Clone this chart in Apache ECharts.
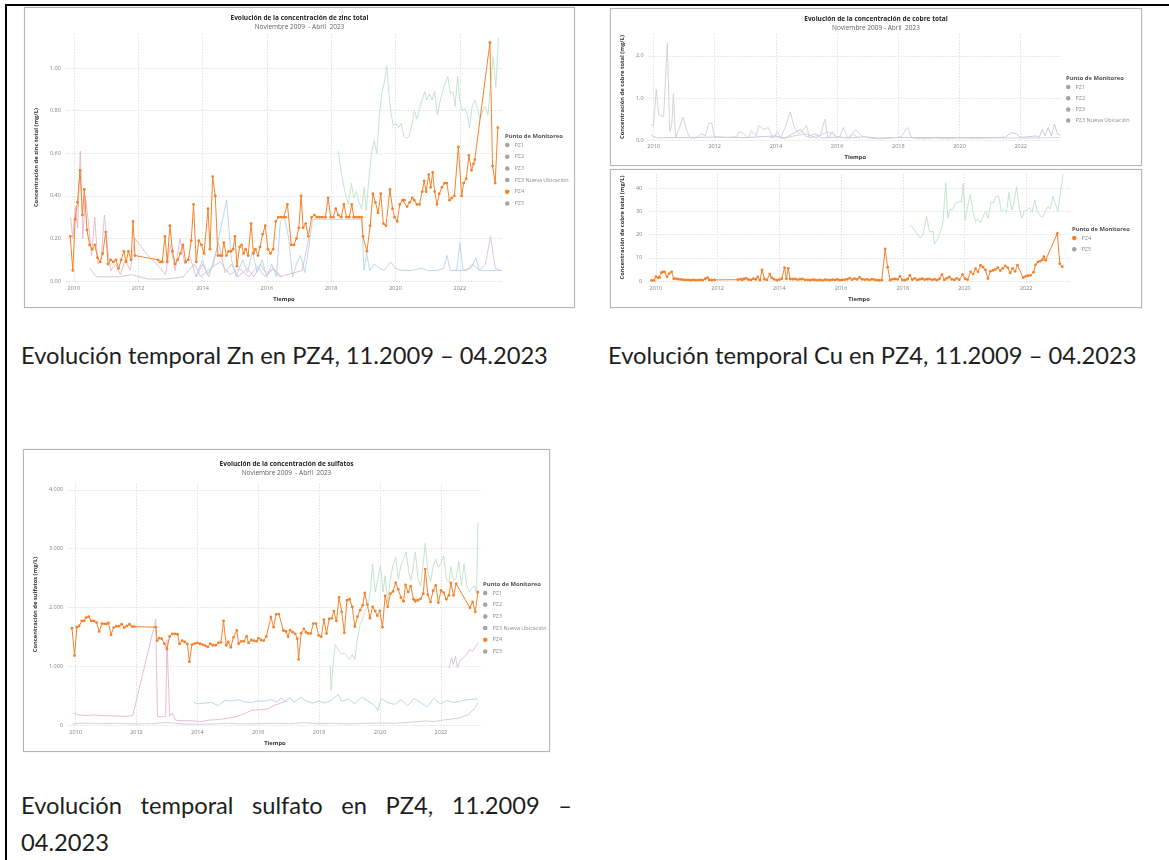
<!DOCTYPE html>
<html>
<head>
<meta charset="utf-8">
<script src="https://cdn.jsdelivr.net/npm/echarts@6/dist/echarts.min.js"></script>
<style>
html,body{margin:0;padding:0;background:#fff;}
body{width:1169px;height:860px;position:relative;overflow:hidden;}
.line{position:absolute;background:#000;}
.frame{position:absolute;box-sizing:border-box;border:1px solid #b5b5b5;background:#fff;box-shadow:0 0 1px #d0d0d0;}
.cap{position:absolute;font-family:Lato,'Open Sans',sans-serif;color:#1e1e1e;white-space:nowrap;line-height:26px;}
</style>
</head>
<body>
<div class="line" style="left:5px;top:4px;width:1164px;height:2px"></div>
<div class="line" style="left:5px;top:4px;width:2px;height:856px"></div>

<div id="zn" class="frame" style="left:24px;top:7px;width:551px;height:301px"></div>
<div id="cuTop" class="frame" style="left:610px;top:8px;width:532px;height:158px"></div>
<div id="cuBot" class="frame" style="left:610px;top:169px;width:532px;height:139px"></div>
<div id="sul" class="frame" style="left:23px;top:449px;width:527px;height:303px"></div>

<div id="capZn" class="cap" style="left:21px;top:342px">Evolución temporal Zn en PZ4, 11.2009 – 04.2023</div>
<div id="capCu" class="cap" style="left:608px;top:342px">Evolución temporal Cu en PZ4, 11.2009 – 04.2023</div>
<div id="capS1" class="cap" style="left:21px;top:792px;width:551px;text-align:justify;text-align-last:justify;white-space:normal">Evolución temporal sulfato en PZ4, 11.2009 –</div>
<div id="capS2" class="cap" style="left:21px;top:829px">04.2023</div>

<script>
// ---------- tick labels ----------
const yearTicks = [2010, 2012, 2014, 2016, 2018, 2020, 2022];
const znYTicks = [0, 0.2, 0.4, 0.6, 0.8, 1.0];
const cuTopYTicks = [0, 1, 2];
const cuBotYTicks = [0, 10, 20, 30, 40];
const sulYTicks = [0, 1000, 2000, 3000, 4000];
const legendNamesAll = ['PZ1', 'PZ2', 'PZ3', 'PZ3 Nueva Ubicación', 'PZ4', 'PZ5'];
const legendNamesCuTop = ['PZ1', 'PZ2', 'PZ3', 'PZ3 Nueva Ubicación'];
const legendNamesCuBot = ['PZ4', 'PZ5'];

// ---------- Zinc (mg/L) : [decimal year, value] ----------
const znPZ4 = [[2009.888,0.21],[2009.969,0.05],[2010.041,0.29],[2010.113,0.37],[2010.194,0.52],[2010.266,0.31],[2010.327,0.43],[2010.409,0.24],[2010.491,0.17],[2010.573,0.15],[2010.655,0.17],[2010.736,0.11],[2010.818,0.09],[2010.900,0.13],[2010.992,0.23],[2011.064,0.08],[2011.145,0.10],[2011.227,0.09],[2011.309,0.10],[2011.391,0.06],[2011.473,0.10],[2011.554,0.14],[2011.626,0.09],[2011.697,0.14],[2011.779,0.10],[2011.841,0.28],[2011.902,0.12],
[2012.618,0.10],[2012.679,0.09],[2012.751,0.09],[2012.832,0.21],[2012.904,0.09],[2012.986,0.26],[2013.068,0.14],[2013.149,0.08],[2013.231,0.10],[2013.313,0.13],[2013.395,0.17],[2013.477,0.09],[2013.558,0.10],[2013.650,0.19],[2013.722,0.36],[2013.804,0.09],[2013.886,0.19],[2013.967,0.17],[2014.049,0.13],[2014.172,0.34],[2014.233,0.15],[2014.315,0.49],[2014.397,0.40],[2014.479,0.12],[2014.540,0.12],[2014.601,0.12],[2014.663,0.18],[2014.744,0.12],[2014.806,0.14],[2014.888,0.14],[2014.949,0.15],[2015.010,0.21],[2015.072,0.07],[2015.153,0.16],[2015.215,0.17],[2015.276,0.13],[2015.338,0.15],[2015.419,0.12],[2015.511,0.27],[2015.583,0.13],[2015.644,0.15],[2015.726,0.12],[2015.787,0.16],[2015.869,0.22],[2015.951,0.26],[2016.033,0.15],[2016.114,0.13],[2016.196,0.15],[2016.278,0.28],[2016.360,0.30],[2016.442,0.30],[2016.524,0.30],[2016.585,0.30],[2016.640,0.36],
[2016.759,0.17],[2016.841,0.17],[2016.923,0.20],[2016.994,0.25],[2017.066,0.40],[2017.127,0.25],[2017.209,0.27],[2017.291,0.21],[2017.393,0.30],[2017.475,0.31],[2017.557,0.30],[2017.638,0.30],[2017.720,0.30],[2017.822,0.30],[2017.904,0.39],[2017.986,0.30],[2018.068,0.30],[2018.140,0.34],[2018.221,0.31],[2018.313,0.30],[2018.395,0.36],[2018.477,0.30],[2018.559,0.30],[2018.640,0.36],[2018.702,0.30],[2018.784,0.30],[2018.865,0.30],[2018.947,0.30],[2018.988,0.21],[2019.111,0.14],[2019.213,0.26],[2019.295,0.41],[2019.377,0.37],[2019.458,0.32],[2019.540,0.41],[2019.622,0.27],[2019.704,0.26],[2019.826,0.43],[2019.908,0.34],[2019.970,0.30],[2020.052,0.28],[2020.133,0.36],[2020.215,0.38],[2020.276,0.38],[2020.358,0.35],[2020.440,0.37],[2020.522,0.39],[2020.583,0.38],[2020.665,0.36],[2020.747,0.36],[2020.829,0.42],[2020.890,0.47],[2020.951,0.42],[2021.033,0.50],[2021.094,0.44],[2021.156,0.51],[2021.217,0.42],[2021.289,0.36],[2021.360,0.41],[2021.442,0.44],[2021.524,0.46],[2021.595,0.46],[2021.677,0.38],[2021.749,0.39],[2021.831,0.40],[2021.953,0.63],[2022.056,0.40],[2022.117,0.46],[2022.199,0.48],[2022.281,0.59],[2022.362,0.52],[2022.423,0.55],[2022.464,0.57],[2022.935,1.12],[2023.017,0.54],[2023.098,0.46],[2023.180,0.72]];
const znPZ5 = [[2018.221,0.61],[2018.293,0.53],[2018.375,0.46],[2018.456,0.40],[2018.538,0.36],[2018.630,0.46],[2018.702,0.39],[2018.784,0.42],[2018.865,0.37],[2018.947,0.34],[2019.029,0.44],[2019.090,0.33],[2019.172,0.48],[2019.254,0.60],[2019.336,0.66],[2019.417,0.60],[2019.499,0.78],[2019.581,0.89],[2019.663,0.94],[2019.724,1.01],[2019.786,0.90],[2019.847,0.80],[2019.929,0.73],[2020.011,0.74],[2020.092,0.72],[2020.174,0.74],[2020.256,0.68],[2020.338,0.67],[2020.420,0.68],[2020.501,0.73],[2020.583,0.80],[2020.665,0.76],[2020.747,0.81],[2020.828,0.85],[2020.910,0.89],[2020.972,0.85],[2021.053,0.88],[2021.135,0.85],[2021.217,0.89],[2021.299,0.78],[2021.381,0.84],[2021.462,0.89],[2021.544,0.93],[2021.626,0.96],[2021.708,0.88],[2021.790,0.89],[2021.851,0.82],[2021.933,0.96],[2021.994,0.85],[2022.076,0.80],[2022.158,0.81],[2022.240,0.78],[2022.301,0.72],[2022.383,0.82],[2022.465,0.85],[2022.546,0.81],[2022.628,0.76],[2022.710,0.80],[2022.792,0.82],[2022.874,0.78],[2022.955,0.93],[2023.037,1.05],[2023.119,0.91],[2023.201,1.14]];
const znPZ3N = [[2013.80,0.02],[2014.00,0.10],[2014.15,0.03],[2014.35,0.08],[2014.50,0.20],[2014.75,0.38],[2014.90,0.10],[2015.05,0.02],[2015.25,0.10],[2015.40,0.04],[2015.55,0.14],[2015.70,0.04],[2015.85,0.10],[2016.00,0.02],[2016.15,0.08],[2016.30,0.02],[2016.42,0.28],[2016.55,0.30],[2016.68,0.20],[2016.80,0.02],[2016.92,0.08],[2017.05,0.12],[2017.18,0.04],[2017.30,0.15],[2017.42,0.29],[2017.60,0.29],[2017.80,0.29],[2018.00,0.29],[2018.20,0.29],[2018.40,0.29],[2018.60,0.29],[2018.80,0.29],[2018.95,0.29],[2019.02,0.05],[2019.10,0.13],[2019.20,0.05],[2019.35,0.08],[2019.50,0.06],[2019.65,0.05],[2019.85,0.09],[2020.00,0.06],[2020.20,0.05],[2020.50,0.05],[2020.80,0.06],[2021.00,0.05],[2021.30,0.05],[2021.50,0.06],[2021.60,0.12],[2021.70,0.05],[2021.90,0.05],[2022.00,0.18],[2022.10,0.05],[2022.35,0.06],[2022.50,0.11],[2022.60,0.05],[2022.90,0.05],[2023.10,0.05],[2023.30,0.05]];
const znPZ2 = [[2009.90,0.30],[2009.97,0.20],[2010.05,0.35],[2010.12,0.25],[2010.20,0.61],[2010.28,0.20],[2010.36,0.40],[2010.45,0.28],[2010.55,0.12],[2010.65,0.30],[2010.75,0.08],[2010.85,0.10],[2010.95,0.31],[2011.05,0.15],[2011.15,0.05],[2011.30,0.08],[2011.45,0.03],[2011.60,0.10],[2011.75,0.05],[2011.90,0.20],[2012.30,0.12],[2012.70,0.06],[2012.85,0.03],[2013.00,0.17],[2013.15,0.05],[2013.30,0.20],[2013.45,0.08],[2013.60,0.12],[2013.80,0.02],[2014.00,0.08],[2014.20,0.02],[2014.50,0.18],[2014.70,0.04],[2014.90,0.08],[2015.10,0.02],[2015.40,0.06],[2015.60,0.02],[2015.80,0.08],[2016.00,0.03],[2016.20,0.06],[2016.40,0.02],[2017.10,0.05],[2017.30,0.20]];
const znPZ1 = [[2010.50,0.06],[2010.70,0.02],[2011.00,0.02],[2011.40,0.02],[2011.80,0.03],[2012.30,0.01],[2012.90,0.01],[2013.40,0.02],[2013.75,0.08],[2013.95,0.02],[2014.25,0.06],[2014.55,0.09],[2014.85,0.03],[2015.15,0.06],[2015.45,0.02],[2015.70,0.07],[2015.95,0.02],[2016.20,0.06],[2016.45,0.02]];
const znPZ3 = [[2021.80,0.05],[2022.20,0.05],[2022.40,0.08],[2022.60,0.05],[2022.80,0.08],[2022.95,0.21],[2023.10,0.06],[2023.25,0.05]];

// ---------- Copper top panel (mg/L) ----------
const cuPZ1 = [[2009.91,0.12],[2010.10,0.05],[2010.50,0.06],[2011.00,0.06],[2012.00,0.07],[2013.00,0.06],[2014.00,0.10],[2014.30,0.05],[2014.80,0.25],[2015.00,0.08],[2015.30,0.15],[2015.50,0.05],[2016.00,0.07],[2016.40,0.05],[2016.90,0.08],[2017.30,0.05],[2018.00,0.06],[2019.00,0.06],[2020.00,0.06],[2021.00,0.06],[2021.50,0.07],[2021.70,0.18],[2021.85,0.15],[2022.00,0.06],[2022.50,0.10],[2022.60,0.06],[2022.70,0.25],[2022.80,0.10],[2022.90,0.30],[2023.00,0.10],[2023.10,0.38],[2023.20,0.15],[2023.30,0.12]];
const cuPZ2 = [[2009.91,0.35],[2010.00,0.35],[2010.09,1.20],[2010.17,0.60],[2010.33,0.55],[2010.45,2.30],[2010.53,0.20],[2010.60,0.40],[2010.65,1.10],[2010.72,0.05],[2010.85,0.30],[2010.96,0.55],[2011.10,0.20],[2011.20,0.05],[2011.40,0.05],[2011.55,0.15],[2011.70,0.10],[2011.80,0.40],[2011.90,0.40],[2012.00,0.05]];
const cuPZ3 = [[2012.00,0.08],[2012.40,0.06],[2012.70,0.08],[2012.80,0.20],[2012.95,0.15],[2013.10,0.05],[2013.20,0.22],[2013.35,0.10],[2013.45,0.35],[2013.60,0.25],[2013.75,0.30],[2013.90,0.05],[2014.05,0.20],[2014.15,0.05],[2014.30,0.30],[2014.47,0.67],[2014.60,0.30],[2014.75,0.15],[2014.90,0.25],[2015.00,0.35],[2015.10,0.05],[2015.30,0.10],[2015.45,0.10],[2015.60,0.50],[2015.70,0.05],[2015.85,0.20],[2016.00,0.05],[2016.10,0.10],[2016.20,0.30],[2016.35,0.05],[2016.50,0.15],[2016.70,0.05]];
const cuPZ3N = [[2013.80,0.05],[2014.00,0.08],[2014.20,0.03],[2014.60,0.10],[2015.00,0.15],[2015.30,0.05],[2015.70,0.20],[2016.00,0.08],[2016.40,0.05],[2016.60,0.25],[2016.80,0.10],[2017.00,0.05],[2017.40,0.03],[2017.80,0.05],[2018.10,0.08],[2018.30,0.30],[2018.45,0.05],[2018.80,0.03],[2019.20,0.05],[2019.60,0.03],[2020.00,0.05],[2020.50,0.04],[2021.00,0.05],[2021.50,0.05],[2022.00,0.05],[2022.50,0.05],[2023.00,0.06],[2023.30,0.06]];

// ---------- Copper bottom panel (mg/L) ----------
const cuPZ4 = [[2009.86,0.3],[2009.94,0.3],[2010.00,1.9],[2010.07,1.4],[2010.12,1.6],[2010.18,3.6],[2010.23,4.0],[2010.28,3.9],[2010.36,1.9],[2010.43,3.2],[2010.51,4.0],[2010.58,1.0],[2010.65,1.1],[2010.72,0.8],[2010.80,0.7],[2010.88,0.6],[2010.96,0.5],[2011.04,0.5],[2011.12,0.4],[2011.20,0.5],[2011.28,0.4],[2011.36,0.4],[2011.44,0.5],[2011.52,0.4],[2011.60,1.0],[2011.67,1.5],[2011.73,0.5],[2011.81,0.4],[2011.90,0.5],
[2012.66,0.6],[2012.74,0.8],[2012.80,0.5],[2012.86,1.0],[2012.93,1.2],[2013.00,0.6],[2013.08,0.5],[2013.16,1.0],[2013.24,0.7],[2013.30,1.8],[2013.37,0.4],[2013.44,4.8],[2013.52,0.8],[2013.60,0.5],[2013.69,3.0],[2013.75,1.5],[2013.83,0.8],[2013.92,0.4],[2014.00,0.6],[2014.08,1.0],[2014.17,5.8],[2014.23,1.0],[2014.29,5.5],[2014.35,0.9],[2014.43,0.8],[2014.51,0.9],[2014.59,0.6],[2014.67,0.8],[2014.75,0.9],[2014.83,0.5],[2014.92,0.5],[2015.00,0.4],[2015.08,0.6],[2015.16,0.5],[2015.24,0.4],[2015.32,0.5],[2015.40,0.3],[2015.48,0.6],[2015.56,0.5],[2015.64,0.4],[2015.72,0.6],[2015.80,0.5],[2015.88,0.7],[2015.96,0.4],[2016.04,0.5],[2016.12,0.6],[2016.20,0.8],[2016.28,1.3],[2016.36,0.6],[2016.44,1.1],[2016.52,0.7],[2016.60,1.6],[2016.68,0.8],[2016.76,0.6],[2016.84,0.7],[2016.92,0.5],[2017.00,0.8],[2017.08,0.6],[2017.16,0.4],[2017.24,0.3],[2017.32,0.4],[2017.43,13.8],[2017.51,6.0],[2017.59,0.4],[2017.67,0.8],[2017.75,0.9],[2017.83,0.7],[2017.91,2.0],[2017.99,0.5],[2018.07,0.4],[2018.15,0.8],[2018.23,2.5],[2018.31,0.6],[2018.39,1.2],[2018.47,0.5],[2018.55,0.8],[2018.63,1.0],[2018.71,0.6],[2018.79,0.8],[2018.87,0.9],[2018.95,0.5],[2019.03,0.8],[2019.11,0.4],[2019.19,1.0],[2019.27,2.8],[2019.35,0.5],[2019.43,1.2],[2019.51,1.8],[2019.59,0.8],[2019.67,0.5],[2019.75,1.2],[2019.83,0.6],[2019.94,2.8],[2020.02,1.0],[2020.10,0.6],[2020.20,4.0],[2020.28,3.0],[2020.36,5.3],[2020.44,4.0],[2020.52,6.8],[2020.60,6.0],[2020.68,4.8],[2020.76,1.1],[2020.84,4.2],[2020.92,4.6],[2021.00,5.0],[2021.08,5.8],[2021.16,4.5],[2021.24,5.5],[2021.32,6.5],[2021.40,5.8],[2021.48,3.5],[2021.56,5.5],[2021.64,4.2],[2021.72,6.8],[2021.90,1.5],[2021.98,2.0],[2022.06,2.3],[2022.14,2.5],[2022.24,3.8],[2022.30,7.0],[2022.38,8.2],[2022.46,8.6],[2022.53,9.2],[2022.57,10.5],[2022.63,9.0],[2023.01,20.5],[2023.09,7.5],[2023.17,6.2]];
const cuPZ5 = [[2018.24,24.3],[2018.40,21.6],[2018.56,18.5],[2018.66,20.0],[2018.77,27.8],[2018.87,21.0],[2018.98,21.5],[2019.03,16.0],[2019.13,18.0],[2019.24,22.0],[2019.31,26.0],[2019.39,42.3],[2019.46,27.0],[2019.54,31.0],[2019.62,30.5],[2019.71,33.5],[2019.81,34.0],[2019.90,34.0],[2019.96,42.0],[2020.02,26.0],[2020.10,32.0],[2020.19,37.0],[2020.27,30.0],[2020.36,25.5],[2020.44,26.5],[2020.52,25.0],[2020.61,28.0],[2020.69,30.0],[2020.77,27.0],[2020.86,34.0],[2020.94,33.5],[2021.02,36.5],[2021.11,36.5],[2021.19,30.0],[2021.27,31.0],[2021.36,29.5],[2021.44,38.0],[2021.53,30.5],[2021.61,34.0],[2021.69,40.5],[2021.78,31.0],[2021.86,27.0],[2021.94,30.0],[2022.03,30.5],[2022.11,31.5],[2022.19,29.5],[2022.28,35.0],[2022.36,30.0],[2022.45,28.0],[2022.53,27.5],[2022.61,29.5],[2022.70,32.0],[2022.78,31.0],[2022.86,36.5],[2022.95,33.0],[2023.03,30.0],[2023.11,38.0],[2023.20,46.0]];

// ---------- Sulfates (mg/L) ----------
const sulPZ4 = [[2009.881,1648],[2009.968,1184],[2010.043,1665],[2010.119,1687],[2010.205,1771],[2010.281,1771],[2010.346,1827],[2010.432,1844],[2010.519,1771],[2010.605,1771],[2010.692,1743],[2010.778,1592],[2010.864,1726],[2010.951,1721],[2011.016,1721],[2011.080,1737],[2011.167,1536],[2011.253,1659],[2011.340,1682],[2011.426,1682],[2011.513,1715],[2011.599,1659],[2011.686,1687],[2011.772,1715],[2011.858,1676],[2011.923,1676],
[2012.636,1665],[2012.680,1436],[2012.744,1480],[2012.831,1469],[2012.917,1385],[2013.004,1296],[2013.090,1508],[2013.177,1553],[2013.263,1553],[2013.350,1547],[2013.414,1380],[2013.501,1436],[2013.587,1413],[2013.674,1380],[2013.739,1078],[2013.825,1369],[2013.911,1385],[2013.998,1397],[2014.084,1385],[2014.171,1369],[2014.257,1352],[2014.344,1330],[2014.430,1385],[2014.517,1358],[2014.603,1358],[2014.689,1397],[2014.776,1408],[2014.862,1771],[2014.949,1358],[2015.014,1413],[2015.100,1324],[2015.187,1492],[2015.294,1609],[2015.359,1385],[2015.446,1425],[2015.532,1425],[2015.619,1508],[2015.683,1397],[2015.770,1447],[2015.856,1436],[2015.943,1425],[2016.008,1480],[2016.094,1447],[2016.181,1436],[2016.267,1508],[2016.418,1838],[2016.505,1665],[2016.591,1883],[2016.678,1888],[2016.829,1609],[2016.915,1592],[2016.980,1503],[2017.045,1615],[2017.131,1581],[2017.218,1553],[2017.283,1469],[2017.326,1117],[2017.412,1564],[2017.499,1637],[2017.570,1580],[2017.639,1559],[2017.726,1559],[2017.812,1726],[2017.899,1726],[2017.985,1525],[2018.072,1503],[2018.158,1793],[2018.245,1559],[2018.331,1804],[2018.417,1816],[2018.482,1939],[2018.569,1771],[2018.655,2173],[2018.742,1927],[2018.828,1570],[2018.914,2123],[2019.001,2140],[2019.087,2011],[2019.174,1676],[2019.260,1844],[2019.347,1955],[2019.433,2039],[2019.498,2246],[2019.584,2050],[2019.671,1816],[2019.757,2011],[2019.844,1939],[2019.909,1860],[2019.995,1944],[2020.081,1665],[2020.168,2196],[2020.254,2011],[2020.341,2235],[2020.427,2274],[2020.514,2419],[2020.600,2307],[2020.686,2168],[2020.773,2106],[2020.838,2385],[2020.924,2263],[2021.011,2363],[2021.097,2140],[2021.162,2106],[2021.248,2123],[2021.335,2151],[2021.421,2235],[2021.486,2654],[2021.572,2218],[2021.659,2095],[2021.745,2285],[2021.832,2374],[2021.918,2084],[2022.005,2291],[2022.091,2251],[2022.177,2140],[2022.264,2207],[2022.329,2419],[2022.415,2207],[2022.502,2402],[2022.955,1994],[2023.042,2095],[2023.129,1927],[2023.215,2263]];
const sulPZ5 = [[2018.363,1006],[2018.396,587],[2018.461,1034],[2018.525,1369],[2018.590,1397],[2018.655,1257],[2018.742,1201],[2018.828,1229],[2018.914,1173],[2019.001,1117],[2019.087,1201],[2019.174,1117],[2019.260,1480],[2019.347,1704],[2019.433,1816],[2019.520,1955],[2019.606,2011],[2019.692,2318],[2019.757,2737],[2019.844,2263],[2019.930,2486],[2020.016,2721],[2020.103,2263],[2020.168,2542],[2020.254,2095],[2020.341,2486],[2020.427,2721],[2020.514,2849],[2020.600,2486],[2020.686,2709],[2020.773,2821],[2020.859,2944],[2020.946,2598],[2021.011,2458],[2021.097,2698],[2021.162,2944],[2021.248,2486],[2021.335,2363],[2021.421,2765],[2021.486,3089],[2021.572,2609],[2021.659,2430],[2021.745,2698],[2021.832,2821],[2021.918,2682],[2022.005,2754],[2022.091,2888],[2022.177,2486],[2022.264,2430],[2022.329,2698],[2022.415,2458],[2022.502,2497],[2022.588,2777],[2022.675,2374],[2022.761,2737],[2022.847,2374],[2022.934,2263],[2023.020,2330],[2023.107,2374],[2023.172,2235],[2023.215,3447]];
const sulPZ2 = [[2009.935,196],[2010.043,184],[2010.151,168],[2010.367,162],[2010.583,173],[2010.800,162],[2011.016,162],[2011.232,156],[2011.448,151],[2011.664,151],[2011.880,162],[2012.636,1799],[2012.690,151],[2012.853,140],[2012.961,151],[2013.004,1453],[2013.090,151],[2013.177,207],[2013.285,84],[2013.501,73],[2013.717,73],[2013.933,67],[2014.149,61],[2014.365,84],[2014.689,95],[2015.014,117],[2015.338,151],[2015.554,196],[2015.770,251],[2016.094,263],[2016.310,274],[2016.526,335],[2016.742,374],[2016.958,408]];
const sulPZ3N = [[2013.879,385],[2014.041,363],[2014.257,374],[2014.473,385],[2014.689,330],[2014.905,419],[2015.122,408],[2015.338,430],[2015.554,397],[2015.770,385],[2015.986,408],[2016.202,408],[2016.418,430],[2016.634,391],[2016.742,464],[2016.850,408],[2017.066,464],[2017.175,385],[2017.391,475],[2017.553,419],[2017.769,374],[2017.985,408],[2018.201,374],[2018.417,430],[2018.634,520],[2018.742,408],[2018.958,441],[2019.174,363],[2019.390,475],[2019.606,408],[2019.822,335],[2019.930,251],[2020.038,453],[2020.254,385],[2020.470,352],[2020.686,430],[2020.903,330],[2021.119,453],[2021.335,385],[2021.551,307],[2021.767,453],[2021.983,363],[2022.199,419],[2022.415,385],[2022.631,408],[2022.847,430],[2023.215,447]];
const sulPZ1 = [[2009.90,20],[2010.30,35],[2010.80,25],[2011.30,30],[2011.90,20],[2012.50,25],[2013.00,45],[2013.50,20],[2014.00,15],[2014.50,20],[2015.00,30],[2015.50,20],[2016.00,25],[2016.50,30],[2017.00,25],[2017.50,40],[2018.00,25],[2018.50,30],[2019.00,20],[2019.50,30],[2020.00,35],[2020.50,30],[2021.00,50],[2021.50,70],[2021.80,60],[2022.00,80],[2022.30,100],[2022.60,120],[2022.90,180],[2023.10,280],[2023.22,380]];
const sulPZ3 = [[2022.264,966],[2022.35,1145],[2022.41,1034],[2022.48,1173],[2022.54,978],[2022.63,1100],[2022.74,1145],[2022.85,1201],[2022.95,1285],[2023.04,1257],[2023.13,1324],[2023.22,1397]];

// ---------- styling ----------
const F = "'Open Sans', 'Noto Sans', sans-serif";
const ORANGE = '#f5822a';
const faint = {PZ1:'#c9c3dc', PZ2:'#e5b5cf', PZ3:'#d8bfe2', 'PZ3 Nueva Ubicación':'#b3d3ea', PZ5:'#bce2c4'};
const LEG_GRAY = '#a3a3a3';

function fmtThousands(v){ return String(Math.round(v)).replace(/\B(?=(\d{3})+(?!\d))/g, '.'); }

function build(id, c){
  const chart = echarts.init(document.getElementById(id), null, {renderer:'canvas'});
  const titles = [];
  if (c.title) titles.push({text:c.title, subtext:c.sub, left:'center', top:c.titleTop, itemGap:2,
    textStyle:{fontSize:6.5, fontWeight:'bold', color:'#252423', fontFamily:F},
    subtextStyle:{fontSize:6.5, color:'#605e5c', fontFamily:F}});
  titles.push({text:'Punto de Monitoreo', left:c.legLeft, top:c.legTitleTop, padding:0,
    textStyle:{fontSize:5.8, fontWeight:'bold', color:'#505050', fontFamily:F}});
  const series = c.series.map(s => ({
    name:s.name, type:'line', data:s.data, animation:false, silent:true,
    showSymbol:!!s.dots, symbol:'circle', symbolSize:2.8,
    lineStyle:{color:s.color, width:s.dots ? 1 : 0.9},
    itemStyle:{color:s.color}, z:s.dots ? 5 : 2, emphasis:{disabled:true}
  }));
  chart.setOption({
    animation:false,
    title:titles,
    legend:{orient:'vertical', left:c.legLeft, top:c.legTop, padding:0, itemGap:c.legGap,
      itemWidth:4.5, itemHeight:4.5, icon:'circle', selectedMode:false,
      textStyle:{fontSize:5.5, color:'#8c8c8c', fontFamily:F},
      data:c.legend.map(n => ({name:n, itemStyle:{color: n === 'PZ4' ? ORANGE : LEG_GRAY}}))},
    grid:c.grid,
    xAxis:{type:'value', min:c.xMin, max:c.xMax,
      name:'Tiempo', nameLocation:'middle', nameGap:c.xNameGap,
      nameTextStyle:{fontSize:5.8, fontWeight:'bold', color:'#333', fontFamily:F},
      axisLine:{show:false}, axisTick:{show:false, customValues:yearTicks},
      axisLabel:{customValues:yearTicks, fontSize:5.5, color:'#808080', margin:c.xLabelMargin, fontFamily:F,
        formatter:v => String(Math.round(v))},
      splitLine:{show:true, lineStyle:{type:[1.5,1.5], color:'#e0e0e0', width:1}}},
    yAxis:{type:'value', min:0, max:c.yMax,
      name:c.yName, nameLocation:'middle', nameGap:c.yNameGap,
      nameTextStyle:{fontSize:5.8, fontWeight:'bold', color:'#333', fontFamily:F},
      axisLine:{show:false}, axisTick:{show:false, customValues:c.yTicks},
      axisLabel:{customValues:c.yTicks, fontSize:5.5, color:'#808080', margin:c.yLabelMargin, fontFamily:F,
        formatter:c.yFmt},
      splitLine:{show:true, lineStyle:{type:[1.5,1.5], color:'#e0e0e0', width:1}}},
    series:series
  });
}

build('zn', {
  title:'Evolución de la concentración de zinc total', sub:'Noviembre 2009  - Abril  2023', titleTop:2,
  grid:{left:35, top:26, width:442, height:255},
  xMin:2009.75, xMax:2023.31, xNameGap:13, xLabelMargin:4,
  yMax:1.16, yTicks:znYTicks, yFmt:v => v.toFixed(2),
  yName:'Concentración de zinc total (mg/L)', yNameGap:20, yLabelMargin:5,
  legLeft:480, legTitleTop:125, legTop:134, legGap:5.7, legend:legendNamesAll,
  series:[
    {name:'PZ1', data:znPZ1, color:faint.PZ1},
    {name:'PZ2', data:znPZ2, color:faint.PZ2},
    {name:'PZ3', data:znPZ3, color:faint.PZ3},
    {name:'PZ3 Nueva Ubicación', data:znPZ3N, color:faint['PZ3 Nueva Ubicación']},
    {name:'PZ5', data:znPZ5, color:faint.PZ5},
    {name:'PZ4', data:znPZ4, color:ORANGE, dots:true}
  ]
});

build('cuTop', {
  title:'Evolución de la concentración de cobre total', sub:'Noviembre 2009 - Abril  2023', titleTop:2,
  grid:{left:27, top:25, width:424, height:116},
  xMin:2009.84, xMax:2023.35, xNameGap:11, xLabelMargin:3,
  yMax:2.52, yTicks:cuTopYTicks, yFmt:v => v.toFixed(1),
  yName:'Concentración de cobre total (mg/L)', yNameGap:17, yLabelMargin:5,
  legLeft:455, legTitleTop:66, legTop:75, legGap:5.2, legend:legendNamesCuTop,
  series:[
    {name:'PZ1', data:cuPZ1, color:'#c6c2da'},
    {name:'PZ2', data:cuPZ2, color:'#cfcfcf'},
    {name:'PZ3', data:cuPZ3, color:'#d2ccd8'},
    {name:'PZ3 Nueva Ubicación', data:cuPZ3N, color:'#cad4de'}
  ]
});

build('cuBot', {
  grid:{left:23, top:4, width:436, height:113},
  xMin:2009.75, xMax:2023.42, xNameGap:12, xLabelMargin:4,
  yMax:46, yTicks:cuBotYTicks, yFmt:v => String(v),
  yName:'Concentración de cobre total (mg/L)', yNameGap:15, yLabelMargin:6,
  legLeft:461, legTitleTop:56, legTop:65, legGap:5.2, legend:legendNamesCuBot,
  series:[
    {name:'PZ5', data:cuPZ5, color:faint.PZ5},
    {name:'PZ4', data:cuPZ4, color:ORANGE, dots:true}
  ]
});

build('sul', {
  title:'Evolución de la concentración de sulfatos', sub:'Noviembre 2009  - Abril  2023', titleTop:6,
  grid:{left:36, top:34, width:422, height:245},
  xMin:2009.75, xMax:2023.35, xNameGap:13, xLabelMargin:4,
  yMax:4100, yTicks:sulYTicks, yFmt:fmtThousands,
  yName:'Concentración de sulfatos (mg/L)', yNameGap:23, yLabelMargin:5,
  legLeft:459, legTitleTop:131, legTop:140, legGap:5.7, legend:legendNamesAll,
  series:[
    {name:'PZ1', data:sulPZ1, color:'#cdccd6'},
    {name:'PZ2', data:sulPZ2, color:faint.PZ2},
    {name:'PZ3', data:sulPZ3, color:faint.PZ3},
    {name:'PZ3 Nueva Ubicación', data:sulPZ3N, color:faint['PZ3 Nueva Ubicación']},
    {name:'PZ5', data:sulPZ5, color:faint.PZ5},
    {name:'PZ4', data:sulPZ4, color:ORANGE, dots:true}
  ]
});

// caption font size fitted so the Zn caption spans its width in the reference
(function(){
  const ctx = document.createElement('canvas').getContext('2d');
  ctx.font = "20px Lato";
  const w = ctx.measureText(document.getElementById('capZn').textContent).width;
  const size = Math.max(16, Math.min(24, 20 * 527 / w));
  document.querySelectorAll('.cap').forEach(el => el.style.fontSize = size.toFixed(2) + 'px');
})();
</script>
</body>
</html>
